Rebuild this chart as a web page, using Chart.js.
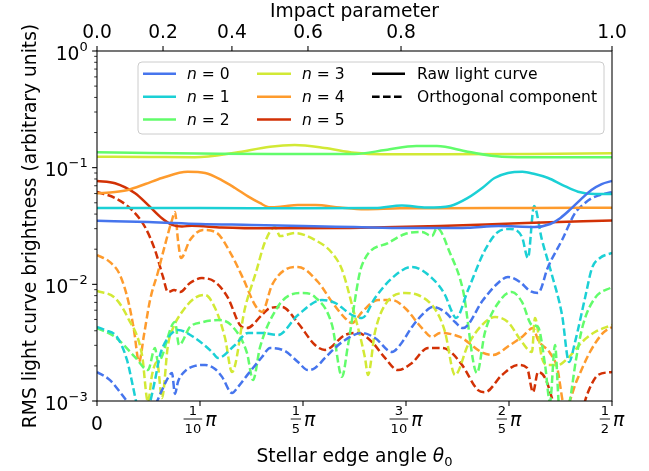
<!DOCTYPE html>
<html><head><meta charset="utf-8">
<script src="https://cdn.jsdelivr.net/npm/chart.js@4.4.1/dist/chart.umd.min.js"></script>
<style>html,body{margin:0;padding:0;background:#fff;}#wrap{width:649px;height:471px;}</style>
</head><body><div id="wrap"><canvas id="c" width="649" height="471"></canvas></div>
<script>
// ---- data (x in units of pi: theta0 / pi) ----
const seriesNames = ['0','1','2','3','4','5'];
const seriesColors = ['#4675ed','#1bd0d5','#62fc6b','#d2e935','#fe9b2d','#d23105'];
const bottomTicks = [0, 0.1, 0.2, 0.3, 0.4, 0.5];
const bottomTickLabels = [['0'], ['1','10'], ['1','5'], ['3','10'], ['2','5'], ['1','2']];
const topTickValues = [0.0, 0.2, 0.4, 0.6, 0.8, 1.0];   // impact parameter = sin(theta0)
const topTickLabels = ['0.0','0.2','0.4','0.6','0.8','1.0'];
const yDecades = [-3, -2, -1, 0];

const solid0 = [[0,0.035],[0.05,0.0342],[0.1,0.0329],[0.15,0.0323],[0.2,0.0316],[0.25,0.031],[0.3,0.0304],[0.33,0.0304],[0.36,0.0306],[0.39,0.0316],[0.425,0.031],[0.44,0.0329],[0.45,0.0371],[0.46,0.0443],[0.47,0.0538],[0.48,0.0644],[0.49,0.0724],[0.5,0.0769]];
const solid1 = [[0,0.0451],[0.1,0.0451],[0.2,0.0449],[0.27,0.0451],[0.296,0.0474],[0.32,0.0455],[0.343,0.047],[0.36,0.055],[0.374,0.067],[0.386,0.0815],[0.399,0.0899],[0.413,0.0922],[0.425,0.0881],[0.438,0.0815],[0.452,0.071],[0.467,0.0622],[0.483,0.0594],[0.5,0.0594]];
const solid2 = [[0,0.1355],[0.05,0.1336],[0.1,0.1323],[0.17,0.131],[0.25,0.131],[0.28,0.1416],[0.31,0.1535],[0.33,0.1535],[0.36,0.137],[0.393,0.1242],[0.43,0.1228],[0.5,0.1228]];
const solid3 = [[0,0.1242],[0.05,0.1235],[0.095,0.1228],[0.134,0.1342],[0.168,0.1514],[0.192,0.1563],[0.221,0.1476],[0.25,0.1342],[0.277,0.1303],[0.333,0.1303],[0.42,0.131],[0.5,0.1328]];
const solid4 = [[0,0.0603],[0.0175,0.0618],[0.03,0.0644],[0.047,0.0724],[0.063,0.0815],[0.088,0.0922],[0.105,0.0899],[0.121,0.0783],[0.134,0.067],[0.147,0.0564],[0.158,0.0498],[0.168,0.0457],[0.18,0.0464],[0.195,0.0479],[0.212,0.0479],[0.236,0.0455],[0.26,0.044],[0.294,0.0448],[0.333,0.0449],[0.42,0.0452],[0.5,0.0454]];
const solid5 = [[0,0.0769],[0.0175,0.0735],[0.037,0.0603],[0.0495,0.0479],[0.063,0.0368],[0.073,0.0323],[0.0825,0.0313],[0.092,0.0318],[0.121,0.0307],[0.168,0.0302],[0.246,0.0304],[0.333,0.0316],[0.416,0.0336],[0.5,0.0352]];

const dash0 = [[0,0.00177],[0.0126,0.00151],[0.0243,0.00113],[0.032,0.00092],[0.042,0.00069],[0.0563,0.00092],[0.0631,0.00124],[0.0689,0.00158],[0.0728,0.00174],[0.0757,0.00115],[0.0786,0.00146],[0.0845,0.00177],[0.0951,0.002],[0.1049,0.00204],[0.1146,0.00188],[0.1214,0.00161],[0.1311,0.00117],[0.1369,0.00132],[0.1466,0.0017],[0.1602,0.00238],[0.168,0.00285],[0.1825,0.00268],[0.1951,0.00216],[0.2049,0.00184],[0.2117,0.00192],[0.2214,0.00234],[0.2379,0.0032],[0.2573,0.00383],[0.2699,0.00347],[0.2864,0.00263],[0.2942,0.00302],[0.3058,0.00431],[0.3184,0.00579],[0.3262,0.00639],[0.3379,0.00579],[0.3476,0.00475],[0.3553,0.00422],[0.3748,0.00734],[0.3883,0.01007],[0.399,0.01156],[0.4107,0.01047],[0.4204,0.00877],[0.4282,0.00843],[0.4379,0.0141],[0.4515,0.024],[0.4641,0.0408],[0.4738,0.0498],[0.4806,0.055],[0.4883,0.0583],[0.5,0.0618]];
const dash1 = [[0,0.00431],[0.0078,0.00406],[0.0194,0.00354],[0.0291,0.00225],[0.035,0.00132],[0.0388,0.00092],[0.0437,0.00069],[0.0495,0.00084],[0.0563,0.00151],[0.0612,0.00248],[0.0689,0.00347],[0.0786,0.00406],[0.0951,0.00347],[0.1117,0.00263],[0.1175,0.00234],[0.134,0.00302],[0.1466,0.00383],[0.1602,0.00383],[0.1757,0.00368],[0.1951,0.00546],[0.2184,0.00734],[0.2311,0.00692],[0.2476,0.00546],[0.2573,0.00514],[0.2699,0.00764],[0.2864,0.01131],[0.3058,0.0141],[0.3252,0.01131],[0.3379,0.0081],[0.3447,0.00579],[0.3485,0.00514],[0.3602,0.00894],[0.3767,0.01968],[0.3893,0.02809],[0.401,0.02979],[0.4126,0.02548],[0.4184,0.01683],[0.4243,0.04688],[0.432,0.024],[0.4417,0.01202],[0.4515,0.00546],[0.4583,0.00216],[0.4641,0.0032],[0.4738,0.00764],[0.4806,0.0138],[0.4883,0.01683],[0.5,0.01857]];
const dash2 = [[0,0.00422],[0.0175,0.00354],[0.0369,0.00238],[0.0495,0.00184],[0.0563,0.00285],[0.0592,0.00216],[0.0757,0.00475],[0.0796,0.00302],[0.0903,0.00431],[0.1029,0.00475],[0.1194,0.00494],[0.132,0.00431],[0.1456,0.00258],[0.1515,0.00151],[0.1583,0.0029],[0.1748,0.00627],[0.1874,0.0081],[0.2,0.00843],[0.2117,0.00778],[0.2282,0.00448],[0.2379,0.00161],[0.2437,0.00302],[0.2573,0.01465],[0.2825,0.0226],[0.299,0.027],[0.3155,0.0281],[0.3252,0.02594],[0.3301,0.0304],[0.3427,0.01857],[0.3553,0.00894],[0.3689,0.00174],[0.3767,0.0039],[0.3932,0.00764],[0.4029,0.00859],[0.4126,0.00706],[0.4223,0.00448],[0.4282,0.00431],[0.435,0.00204],[0.4398,0.00098],[0.4447,0.00302],[0.4485,0.00092],[0.4544,0.00069],[0.4592,0.00102],[0.465,0.00225],[0.4718,0.00448],[0.4835,0.00764],[0.5,0.00949]];
const dash3 = [[0,0.00877],[0.0175,0.00764],[0.0301,0.00514],[0.0437,0.00248],[0.0495,0.00098],[0.0534,0.00167],[0.0583,0.00216],[0.0631,0.00106],[0.0689,0.00302],[0.0738,0.00422],[0.0825,0.00579],[0.0951,0.00764],[0.1049,0.0081],[0.1146,0.00627],[0.1243,0.00347],[0.1311,0.00177],[0.1437,0.00627],[0.1544,0.01276],[0.1631,0.02307],[0.1728,0.031],[0.1777,0.0259],[0.1922,0.02754],[0.2117,0.024],[0.2282,0.01857],[0.2379,0.01333],[0.2476,0.00665],[0.2602,0.00234],[0.2631,0.00167],[0.2699,0.0039],[0.2796,0.00665],[0.299,0.00843],[0.3117,0.0081],[0.3252,0.00665],[0.333,0.00514],[0.3379,0.0039],[0.3476,0.00167],[0.3602,0.00302],[0.3738,0.00448],[0.3864,0.00525],[0.399,0.00475],[0.4126,0.0032],[0.4223,0.00263],[0.4252,0.00514],[0.432,0.00234],[0.4379,0.00204],[0.4476,0.00204],[0.4573,0.00234],[0.4709,0.0032],[0.4835,0.0039],[0.5,0.00448]];
const dash4 = [[0,0.01784],[0.0126,0.01552],[0.0223,0.01202],[0.0301,0.00734],[0.0359,0.00406],[0.0408,0.00216],[0.0456,0.00368],[0.0515,0.00734],[0.0592,0.01276],[0.066,0.02173],[0.0728,0.03556],[0.0757,0.04169],[0.0786,0.024],[0.0816,0.01683],[0.0903,0.024],[0.1029,0.02924],[0.1165,0.02754],[0.1291,0.01892],[0.1417,0.01131],[0.1534,0.00665],[0.1602,0.00579],[0.1699,0.00986],[0.1825,0.01333],[0.1951,0.0141],[0.2146,0.01047],[0.2282,0.00706],[0.2408,0.00514],[0.2476,0.00466],[0.2573,0.00579],[0.2728,0.00734],[0.2864,0.00734],[0.299,0.00627],[0.3155,0.00422],[0.3252,0.00354],[0.333,0.00383],[0.3524,0.00354],[0.3748,0.00258],[0.3845,0.00248],[0.401,0.00302],[0.4126,0.00354],[0.4233,0.00422],[0.4282,0.00334],[0.4398,0.00258],[0.4466,0.00196],[0.4544,0.00087],[0.466,0.00151],[0.4786,0.00263],[0.4913,0.00383],[0.5,0.00431]];
const dash5 = [[0,0.0618],[0.0175,0.055],[0.034,0.04335],[0.0466,0.031],[0.0563,0.01968],[0.0641,0.01156],[0.0689,0.00859],[0.0748,0.00894],[0.0806,0.00859],[0.0903,0.01027],[0.1019,0.01131],[0.1146,0.01047],[0.1272,0.00764],[0.1388,0.00448],[0.1456,0.00422],[0.1602,0.00546],[0.168,0.00627],[0.1796,0.00639],[0.1951,0.00466],[0.2117,0.00302],[0.2214,0.00274],[0.2408,0.00368],[0.2534,0.00383],[0.267,0.0032],[0.2796,0.00234],[0.2922,0.00184],[0.3058,0.00212],[0.3214,0.00285],[0.333,0.00285],[0.3408,0.00274],[0.3544,0.00204],[0.3699,0.00124],[0.3767,0.00119],[0.3932,0.00167],[0.4087,0.00204],[0.4175,0.00192],[0.4233,0.00119],[0.4282,0.00177],[0.435,0.00158],[0.4417,0.00106],[0.4476,0.00069],[0.4592,0.00056],[0.4709,0.00084],[0.4767,0.00119],[0.4864,0.00167],[0.5,0.00177]];

const solidSeries = [solid0, solid1, solid2, solid3, solid4, solid5];
const dashSeries = [dash0, dash1, dash2, dash3, dash4, dash5];

// ---- style ----
const FONT = '"DejaVu Sans", sans-serif';
const FS = 18.67, FSS = 13.07, FSL = 15.56;
const LW = 2.5;
const DASH = [7.6, 3.4];

const toXY = arr => arr.map(p => ({x: p[0], y: p[1]}));
const datasets = [];
solidSeries.forEach((s, i) => datasets.push({
  label: 'n = ' + seriesNames[i], data: toXY(s), borderColor: seriesColors[i],
  borderWidth: LW, pointRadius: 0, fill: false, cubicInterpolationMode: 'monotone', clip: 0
}));
dashSeries.forEach((s, i) => datasets.push({
  label: 'n = ' + seriesNames[i] + ' (orthogonal)', data: toXY(s), borderColor: seriesColors[i],
  borderWidth: LW, borderDash: DASH, pointRadius: 0, fill: false, cubicInterpolationMode: 'monotone', clip: 0
}));

function line(ctx, x1, y1, x2, y2) { ctx.beginPath(); ctx.moveTo(x1, y1); ctx.lineTo(x2, y2); ctx.stroke(); }

const mplPlugin = {
  id: 'mpl',
  afterDatasetsDraw(chart) {
    const {ctx, chartArea: a, scales} = chart;
    const xs = scales.x, xt = scales.x2, ys = scales.y;
    ctx.save();
    ctx.fillStyle = '#000'; ctx.strokeStyle = '#000';
    ctx.lineWidth = 1.07;
    ctx.strokeRect(a.left, a.top, a.right - a.left, a.bottom - a.top);
    yDecades.forEach(d => {
      const y = ys.getPixelForValue(Math.pow(10, d));
      ctx.lineWidth = 1.07; line(ctx, a.left - 4.9, y, a.left, y);
      if (d < 0) for (let k = 2; k <= 9; k++) {
        const ym = ys.getPixelForValue(k * Math.pow(10, d));
        ctx.lineWidth = 0.8; line(ctx, a.left - 2.8, ym, a.left, ym);
      }
      const sup = d === 0 ? '0' : '\u2212' + Math.abs(d);
      ctx.font = FS + 'px ' + FONT; const wm = ctx.measureText('10').width;
      ctx.font = FSS + 'px ' + FONT; const ws = ctx.measureText(sup).width;
      const xr = a.left - 9.3;
      ctx.textAlign = 'left'; ctx.textBaseline = 'alphabetic';
      ctx.font = FS + 'px ' + FONT; ctx.fillText('10', xr - wm - ws, y + 8.5);
      ctx.font = FSS + 'px ' + FONT; ctx.fillText(sup, xr - ws, y - 0.5);
    });
    bottomTicks.forEach((t, i) => {
      const x = xs.getPixelForValue(t);
      ctx.lineWidth = 1.07; line(ctx, x, a.bottom, x, a.bottom + 4.9);
      const lab = bottomTickLabels[i];
      ctx.textBaseline = 'alphabetic';
      if (lab.length === 1) {
        ctx.font = FS + 'px ' + FONT; ctx.textAlign = 'center';
        ctx.fillText(lab[0], x, a.bottom + 29);
      } else {
        ctx.font = FSS + 'px ' + FONT;
        const wn = ctx.measureText(lab[0]).width, wd = ctx.measureText(lab[1]).width;
        const fw = Math.max(wn, wd) + 2;
        ctx.font = 'italic ' + FS + 'px ' + FONT;
        const wp = ctx.measureText('\u03c0').width;
        const total = fw + 3 + wp;
        const x0 = x - total / 2;
        ctx.lineWidth = 0.9; line(ctx, x0, a.bottom + 18, x0 + fw, a.bottom + 18);
        ctx.font = FSS + 'px ' + FONT; ctx.textAlign = 'center';
        ctx.fillText(lab[0], x0 + fw / 2, a.bottom + 14);
        ctx.fillText(lab[1], x0 + fw / 2, a.bottom + 32);
        ctx.font = 'italic ' + FS + 'px ' + FONT; ctx.textAlign = 'left';
        ctx.fillText('\u03c0', x0 + fw + 3, a.bottom + 25);
      }
    });
    topTickValues.forEach((b, i) => {
      const x = xt.getPixelForValue(Math.asin(b) / Math.PI);
      ctx.lineWidth = 1.07; line(ctx, x, a.top, x, a.top - 4.9);
      ctx.font = FS + 'px ' + FONT; ctx.textAlign = 'center'; ctx.textBaseline = 'alphabetic';
      ctx.fillText(topTickLabels[i], x, a.top - 13);
    });
    const cx = (a.left + a.right) / 2;
    ctx.font = FS + 'px ' + FONT; ctx.textAlign = 'center';
    ctx.fillText('Impact parameter', cx, 17);
    const t1 = 'Stellar edge angle ';
    ctx.font = FS + 'px ' + FONT; const w1 = ctx.measureText(t1).width;
    ctx.font = 'italic ' + FS + 'px ' + FONT; const w2 = ctx.measureText('\u03b8').width;
    ctx.font = FSS + 'px ' + FONT; const w3 = ctx.measureText('0').width;
    let xx = cx - (w1 + w2 + w3) / 2;
    ctx.textAlign = 'left';
    ctx.font = FS + 'px ' + FONT; ctx.fillText(t1, xx, 462); xx += w1;
    ctx.font = 'italic ' + FS + 'px ' + FONT; ctx.fillText('\u03b8', xx, 462); xx += w2;
    ctx.font = FSS + 'px ' + FONT; ctx.fillText('0', xx, 465.5);
    ctx.save();
    ctx.translate(36, (a.top + a.bottom) / 2);
    ctx.rotate(-Math.PI / 2);
    ctx.font = FS + 'px ' + FONT; ctx.textAlign = 'center';
    ctx.fillText('RMS light curve brightness (arbitrary units)', 0, 0);
    ctx.restore();

    const L = {x0: 138, y0: 62, x1: 604, y1: 134, r: 4};
    ctx.beginPath();
    ctx.moveTo(L.x0 + L.r, L.y0); ctx.lineTo(L.x1 - L.r, L.y0); ctx.quadraticCurveTo(L.x1, L.y0, L.x1, L.y0 + L.r);
    ctx.lineTo(L.x1, L.y1 - L.r); ctx.quadraticCurveTo(L.x1, L.y1, L.x1 - L.r, L.y1);
    ctx.lineTo(L.x0 + L.r, L.y1); ctx.quadraticCurveTo(L.x0, L.y1, L.x0, L.y1 - L.r);
    ctx.lineTo(L.x0, L.y0 + L.r); ctx.quadraticCurveTo(L.x0, L.y0, L.x0 + L.r, L.y0);
    ctx.closePath();
    ctx.fillStyle = 'rgba(255,255,255,0.8)'; ctx.fill();
    ctx.strokeStyle = '#cccccc'; ctx.lineWidth = 1; ctx.stroke();
    const rows = [73.7, 96.7, 119.5];
    const cols = [[143, 176, 187], [257, 291, 302]];
    seriesNames.forEach((nm, i) => {
      const c = cols[Math.floor(i / 3)], y = rows[i % 3];
      ctx.strokeStyle = seriesColors[i]; ctx.lineWidth = LW; ctx.setLineDash([]);
      line(ctx, c[0], y, c[1], y);
      ctx.fillStyle = '#000'; ctx.textAlign = 'left'; ctx.textBaseline = 'alphabetic';
      ctx.font = 'italic ' + FSL + 'px ' + FONT; ctx.fillText('n', c[2], y + 5.6);
      const wn = ctx.measureText('n').width;
      ctx.font = FSL + 'px ' + FONT; ctx.fillText(' = ' + nm, c[2] + wn, y + 5.6);
    });
    const styleNames = ['Raw light curve', 'Orthogonal component'];
    styleNames.forEach((nm, i) => {
      const y = rows[i];
      ctx.strokeStyle = '#000'; ctx.lineWidth = LW;
      ctx.setLineDash(i === 0 ? [] : DASH);
      line(ctx, 372, y, 405, y);
      ctx.setLineDash([]);
      ctx.fillStyle = '#000'; ctx.font = FSL + 'px ' + FONT; ctx.textAlign = 'left';
      ctx.fillText(nm, 417, y + 5.6);
    });
    ctx.restore();
  }
};

const hidden = {display: false};
new Chart(document.getElementById('c'), {
  type: 'line',
  data: {datasets},
  options: {
    responsive: false, animation: false, devicePixelRatio: 1,
    layout: {padding: {left: 0, right: 37, top: 0, bottom: 0}},
    plugins: {legend: hidden, tooltip: {enabled: false}},
    scales: {
      x: {type: 'linear', position: 'bottom', min: 0, max: 0.5, ticks: hidden, grid: hidden, border: hidden,
          afterFit: s => { s.height = 70; }},
      x2: {type: 'linear', position: 'top', min: 0, max: 0.5, ticks: hidden, grid: hidden, border: hidden,
          afterFit: s => { s.height = 51; }},
      y: {type: 'logarithmic', min: 0.001, max: 1, ticks: hidden, grid: hidden, border: hidden,
          afterFit: s => { s.width = 97; }}
    }
  },
  plugins: [mplPlugin]
});
</script>
</body></html>
